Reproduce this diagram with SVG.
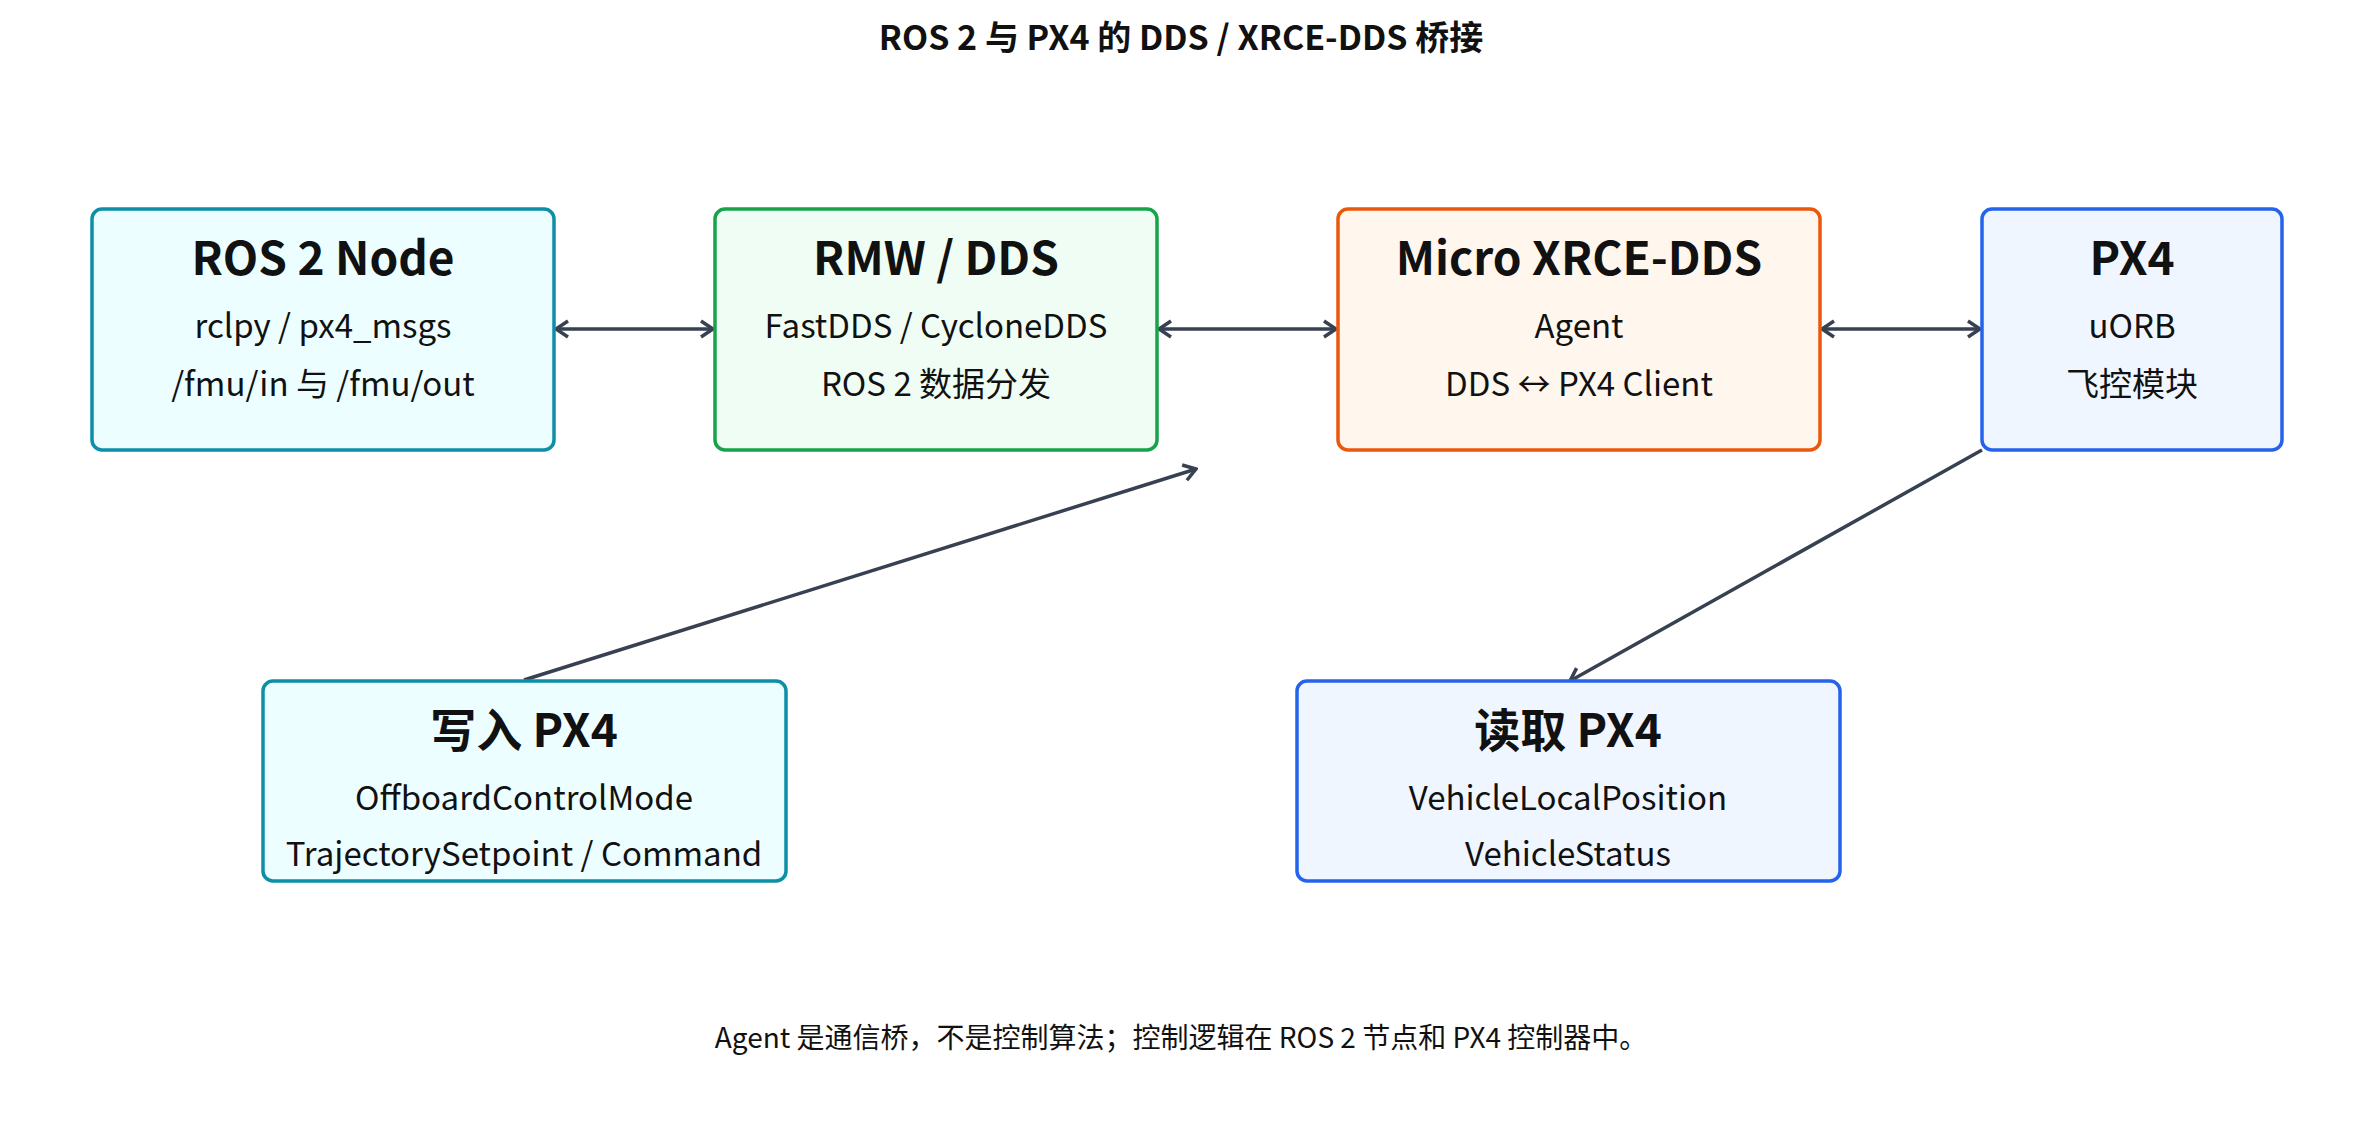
<svg xmlns="http://www.w3.org/2000/svg" width="2362" height="1135" viewBox="0 0 2362 1135">
<style>
text{font-family:"Noto Sans CJK SC","Noto Sans",sans-serif;text-anchor:middle;fill:#111}
.t{font-size:34px;font-weight:700}
.h{font-size:46px;font-weight:700}
.s{font-size:33px}
.f{font-size:28px}
.box{stroke-width:3.5}
.cy{fill:#ecfeff;stroke:#0e8fa8}
.gr{fill:#f0fdf4;stroke:#16a34a}
.or{fill:#fff7ed;stroke:#ea580c}
.bl{fill:#eff6ff;stroke:#2563eb}
.c{stroke:#374151;stroke-width:3.5;fill:none;marker-end:url(#a)}
.b{marker-start:url(#s)}
</style>
<defs>
<marker id="a" viewBox="0 0 20 20" refX="18" refY="10" markerWidth="20" markerHeight="20" markerUnits="userSpaceOnUse" orient="auto"><path d="M6 2 L18 10 L6 18" fill="none" stroke="#374151" stroke-width="3.5"/></marker>
<marker id="s" viewBox="0 0 20 20" refX="2" refY="10" markerWidth="20" markerHeight="20" markerUnits="userSpaceOnUse" orient="auto"><path d="M14 2 L2 10 L14 18" fill="none" stroke="#374151" stroke-width="3.5"/></marker>
</defs>
<rect width="2362" height="1135" fill="#fff"/>
<text class="t" x="1181" y="50">ROS 2 与 PX4 的 DDS / XRCE-DDS 桥接</text>
<g id="connectors">
<line class="c b" x1="556" y1="329" x2="713" y2="329"/>
<line class="c b" x1="1159" y1="329" x2="1336" y2="329"/>
<line class="c b" x1="1822" y1="329" x2="1980" y2="329"/>
<line class="c" x1="524" y1="680" x2="1196" y2="469"/>
<line class="c" x1="1982" y1="450" x2="1570" y2="681"/>
</g>
<g id="ros2node"><rect class="box cy" x="92" y="209" width="462" height="241" rx="10"/>
<text class="h" x="323" y="275">ROS 2 Node</text><text class="s" x="323" y="338">rclpy / px4_msgs</text><text class="s" x="323" y="396">/fmu/in 与 /fmu/out</text></g>
<g id="rmw"><rect class="box gr" x="715" y="209" width="442" height="241" rx="10"/>
<text class="h" x="936" y="275">RMW / DDS</text><text class="s" x="936" y="338">FastDDS / CycloneDDS</text><text class="s" x="936" y="396">ROS 2 数据分发</text></g>
<g id="xrce"><rect class="box or" x="1338" y="209" width="482" height="241" rx="10"/>
<text class="h" x="1579" y="275">Micro XRCE-DDS</text><text class="s" x="1579" y="338">Agent</text><text class="s" x="1579" y="396">DDS ↔ PX4 Client</text></g>
<g id="px4"><rect class="box bl" x="1982" y="209" width="300" height="241" rx="10"/>
<text class="h" x="2132" y="275">PX4</text><text class="s" x="2132" y="338">uORB</text><text class="s" x="2132" y="396">飞控模块</text></g>
<g id="write"><rect class="box cy" x="263" y="681" width="523" height="200" rx="10"/>
<text class="h" x="524" y="747">写入 PX4</text><text class="s" x="524" y="810">OffboardControlMode</text><text class="s" x="524" y="866">TrajectorySetpoint / Command</text></g>
<g id="read"><rect class="box bl" x="1297" y="681" width="543" height="200" rx="10"/>
<text class="h" x="1568" y="747">读取 PX4</text><text class="s" x="1568" y="810">VehicleLocalPosition</text><text class="s" x="1568" y="866">VehicleStatus</text></g>
<text class="f" x="1181" y="1048">Agent 是通信桥，不是控制算法；控制逻辑在 ROS 2 节点和 PX4 控制器中。</text>
</svg>
